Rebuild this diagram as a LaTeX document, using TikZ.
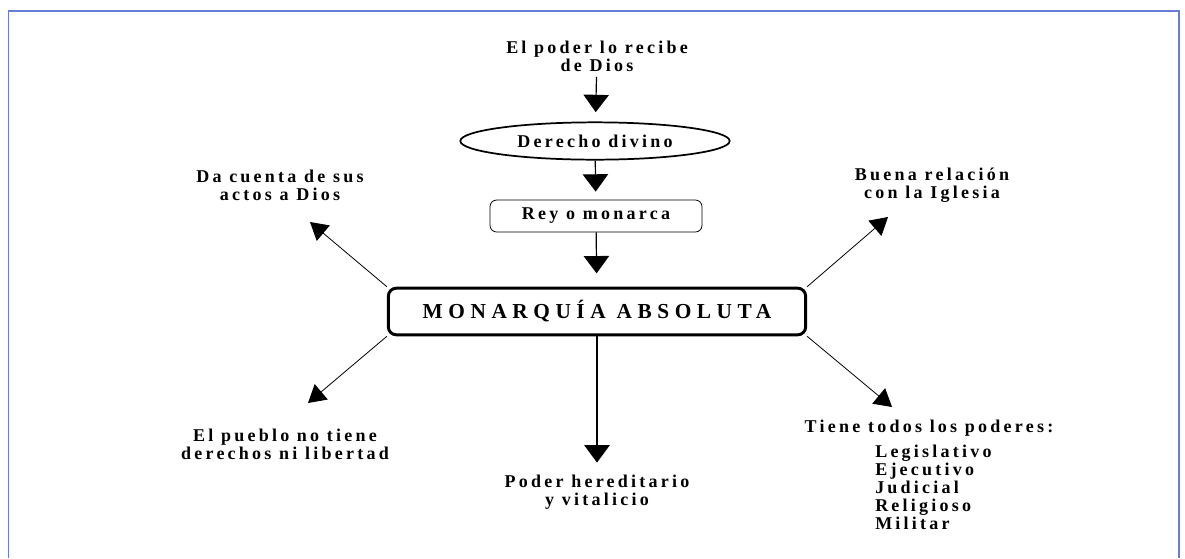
\documentclass[tikz,border=0pt]{standalone}
\usepackage{fontspec}
\setmainfont{Liberation Serif}
\newfontfamily\lblfont{Liberation Serif}[LetterSpace=18]
\newfontfamily\bigfont{Liberation Serif}[LetterSpace=26]
\usepackage{xcolor}
\usetikzlibrary{arrows.meta}
\usetikzlibrary{shapes.geometric}
\definecolor{frameblue}{RGB}{104,126,214}
\tikzset{
  lbl/.style={font=\lblfont\bfseries\fontsize{13.5pt}{13.5pt}\selectfont, align=center, inner sep=0pt},
  flecha/.style={line width=0.9pt, -{Triangle[width=19pt,length=13pt]}},
  diag/.style={line width=0.6pt, -{Triangle[width=15pt,length=13pt]}}
}

\begin{document}
\begin{tikzpicture}[x=0.75pt,y=-0.75pt]
  \useasboundingbox (0,0) rectangle (1185,558);
  % marco azul
  \draw[frameblue, line width=1.3pt] (8.5,558) -- (8.5,11) -- (1179,11) -- (1179,558);

  % cadena central
  \node[lbl] (origen) at (597,56) {El poder lo recibe\\de Dios};
  \node[lbl, draw, ellipse, line width=1.3pt, minimum width=202pt, minimum height=28pt] (divino) at (595,141) {Derecho divino};
  \node[lbl, draw, rounded corners=5pt, line width=0.6pt, minimum width=159pt, minimum height=24pt] (rey) at (596,216) {Rey o monarca};
  \node[draw, line width=2.2pt, rounded corners=6pt, minimum width=313pt, minimum height=35pt,
        font=\bigfont\bfseries\fontsize{16pt}{18pt}\selectfont] (mon) at (597,311.5) {MONARQUÍA ABSOLUTA};
  \draw[flecha, shorten <=4pt, shorten >=7pt] (origen) -- (divino);
  \draw[flecha, shorten >=6pt] (divino) -- (rey);
  \draw[flecha, shorten >=10pt] (rey) -- (mon);

  % rasgos
  \node[lbl] (hered) at (597,492) {Poder hereditario\\y vitalicio};
  \draw[flecha, shorten >=9pt] (mon) -- (hered);
  \node[lbl] (dios) at (280,185) {Da cuenta de sus\\actos a Dios};
  \node[lbl] (pueblo) at (285,444) {El pueblo no tiene\\derechos ni libertad};
  \node[lbl] (iglesia) at (932,185) {Buena relación\\con la Iglesia};
  \node[lbl] (poderes) at (929,428) {Tiene todos los poderes:};
  \node[lbl, align=left, anchor=north west] (lista) at (875,445) {Legislativo\\Ejecutivo\\Judicial\\Religioso\\Militar};

  \coordinate (pA) at (310,222);
  \coordinate (pB) at (308,403);
  \coordinate (pC) at (888,217);
  \coordinate (pD) at (892,407);
  \draw[diag] (mon.north west) -- (pA);
  \draw[diag] (mon.south west) -- (pB);
  \draw[diag] (mon.north east) -- (pC);
  \draw[diag] (mon.south east) -- (pD);
\end{tikzpicture}
\end{document}
